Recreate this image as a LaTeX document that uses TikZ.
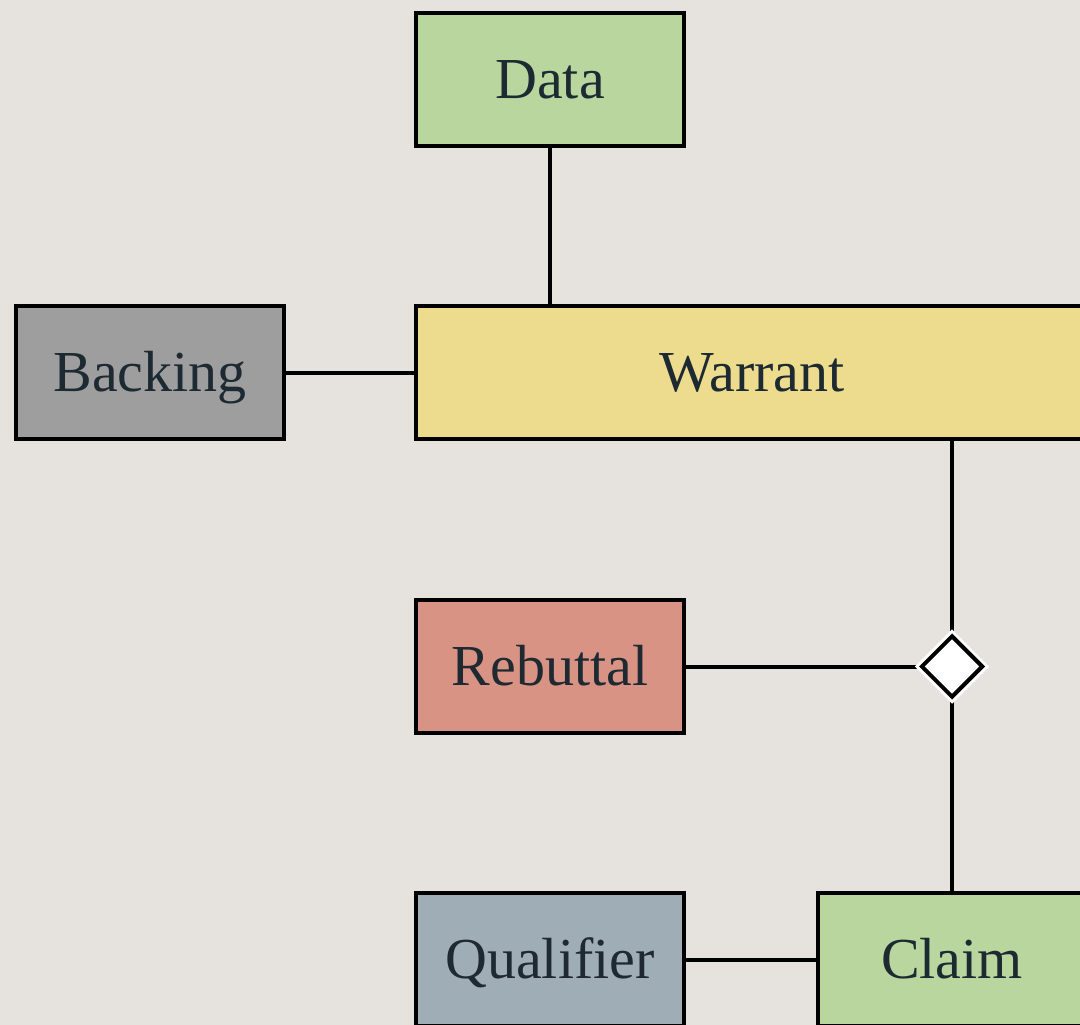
\documentclass[tikz,border=0pt]{standalone}
\usepackage{fontspec}
\setmainfont{Liberation Serif}
\usetikzlibrary{shapes.geometric}
\definecolor{bg}{HTML}{E6E2DE}
\definecolor{txt}{HTML}{1E2A32}
\definecolor{cgreen}{HTML}{B8D69E}
\definecolor{cgray}{HTML}{9E9E9F}
\definecolor{cyellow}{HTML}{EDDC8E}
\definecolor{cred}{HTML}{D99384}
\definecolor{cblue}{HTML}{9EADB6}
\tikzset{
  box/.style={draw=black, line width=4pt, minimum height=133pt, inner sep=0pt,
    text=txt, font=\fontsize{58}{62}\selectfont, text height=38.5pt, text depth=0pt},
  conn/.style={draw=black, line width=4pt},
  gate/.style={diamond, draw=black, fill=white, line width=4pt, minimum width=62pt,
    minimum height=62pt, inner sep=0pt, preaction={draw=white, line width=10pt}}
}
\begin{document}
\begin{tikzpicture}[x=1pt,y=-1pt]
\useasboundingbox (0,0) rectangle (1080,1025);
\fill[bg] (0,0) rectangle (1080,1025);
\clip (0,0) rectangle (1080,1025);
\node[box, fill=cgreen, minimum width=268pt] (data) at (550,79.5) {Data};
\node[box, fill=cgray, minimum width=268pt] (backing) at (150,372.5) {Backing};
\node[box, fill=cyellow, minimum width=672pt] (warrant) at (752,372.5) {Warrant};
\node[box, fill=cred, minimum width=268pt] (rebuttal) at (550,666.5) {Rebuttal};
\node[box, fill=cblue, minimum width=268pt] (qualifier) at (550,959.5) {Qualifier};
\node[box, fill=cgreen, minimum width=268pt] (claim) at (952,959.5) {Claim};
\coordinate (wb) at (952,439);
\draw[conn] (data.south) -- (data.south |- warrant.north);
\draw[conn] (backing.east) -- (warrant.west);
\draw[conn] (wb |- warrant.south) -- (952,640);
\draw[conn] (rebuttal.east) -- (930,666.5);
\draw[conn] (952,690) -- (claim.north);
\draw[conn] (qualifier.east) -- (claim.west);
\node[gate] (g) at (952,666.5) {};
\end{tikzpicture}
\end{document}
